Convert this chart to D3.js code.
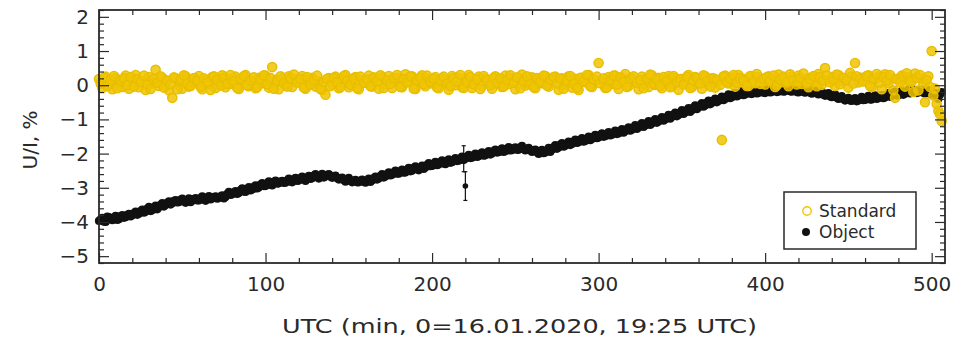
<!DOCTYPE html>
<html>
<head>
<meta charset="utf-8">
<script src="https://cdn.jsdelivr.net/npm/d3@7"></script>
<style>
  html, body { margin: 0; padding: 0; background: #fff; }
  svg { display: block; }
  text { font-family: "DejaVu Sans", sans-serif; fill: #2a2a2a; }
</style>
</head>
<body>
<svg id="chart" width="963" height="341"></svg>
<script>
// ---------------- DATA ----------------
// sample cadences: even minutes 0..506 and odd minutes 1..505
const sampleTimesEven = d3.range(0, 507, 2);
const sampleTimesOdd = d3.range(1, 506, 2);

// Standard star polarisation U/I, % (yellow) - even minutes
const standardEven = [
  0.18,-0.08,0.25,0.02,-0.12,0.21,0.10,-0.05,0.28,-0.10,
  0.15,0.30,-0.06,0.12,-0.14,0.24,0.05,0.45,-0.02,0.22,
  0.10,-0.15,-0.37,0.20,0.00,-0.10,0.26,-0.04,0.18,0.08,
  0.27,-0.12,0.14,0.02,0.24,-0.08,0.11,0.29,-0.06,0.19,
  0.04,0.25,-0.11,0.16,0.30,-0.03,0.13,-0.09,0.22,0.06,
  0.28,-0.07,0.53,0.15,-0.12,0.20,0.01,0.26,-0.05,0.17,
  0.09,0.27,-0.10,0.14,0.22,-0.04,0.11,-0.14,-0.28,0.21,
  0.03,0.25,-0.09,0.18,0.30,-0.06,0.12,0.24,-0.12,0.16,
  0.07,0.28,-0.04,0.19,-0.10,0.23,0.02,0.27,-0.08,0.14,
  0.21,-0.06,0.32,0.10,0.26,-0.11,0.15,0.29,-0.03,0.18,
  0.05,0.24,-0.09,0.20,0.12,-0.13,0.27,0.00,0.22,-0.06,
  0.16,0.30,-0.08,0.13,0.25,-0.02,0.19,0.08,-0.10,0.26,
  0.11,-0.05,0.28,0.04,0.21,-0.12,0.17,0.31,-0.01,0.14,
  0.23,-0.09,0.18,0.06,0.27,-0.04,0.12,0.25,-0.13,0.20,
  0.02,0.26,-0.07,0.19,-0.14,0.22,0.09,0.30,-0.05,0.15,
  0.65,0.12,-0.08,0.24,0.04,0.28,-0.11,0.17,0.33,-0.02,
  0.20,0.08,-0.12,0.25,0.13,-0.05,0.29,0.01,0.22,-0.09,
  0.16,0.27,-0.03,0.21,-0.13,0.18,0.07,0.30,-0.06,0.24,
  0.10,-0.10,0.26,0.03,0.20,-0.07,0.14,-1.60,0.28,0.05,
  0.22,-0.04,0.30,0.11,0.18,-0.02,0.27,0.06,0.24,0.13,
  0.02,0.26,0.15,-0.05,0.31,0.09,0.20,-0.03,0.25,0.12,
  0.28,0.04,0.19,-0.06,0.23,0.10,0.33,0.01,0.50,0.16,
  0.24,-0.02,0.30,0.12,0.20,-0.07,0.26,0.65,0.08,0.22,
  0.14,0.29,-0.05,0.18,0.25,-0.12,0.32,0.06,0.21,-0.37,
  0.17,0.28,-0.04,0.23,0.10,0.34,-0.15,0.19,-0.50,0.26,
  1.00,-0.10,-0.75,-1.05
];
// Standard - odd minutes
const standardOdd = [
  0.05,0.22,-0.03,0.16,0.27,-0.09,0.13,0.20,0.00,0.24,
  -0.04,0.18,0.09,0.28,0.02,-0.11,0.19,0.07,0.26,-0.07,
  0.14,0.03,0.23,-0.12,0.17,0.29,0.06,-0.02,0.21,0.12,
  -0.05,0.20,0.08,-0.14,0.26,0.15,-0.01,0.22,0.04,0.30,
  0.11,-0.08,0.19,0.27,0.00,0.14,0.23,-0.06,0.17,0.29,
  0.03,0.21,-0.10,0.12,0.26,0.06,-0.04,0.20,0.31,0.08,
  0.18,-0.07,0.24,0.02,0.15,0.28,-0.11,0.10,0.19,-0.02,
  0.22,0.09,-0.06,0.27,0.13,0.01,0.20,-0.09,0.25,0.07,
  0.16,-0.03,0.23,0.11,0.29,-0.08,0.14,0.04,0.21,0.30,
  -0.05,0.18,0.08,0.26,-0.10,0.15,0.22,0.03,0.28,0.10,
  0.19,-0.07,0.13,0.25,0.05,-0.02,0.21,0.11,0.30,-0.08,
  0.09,0.24,0.02,0.18,-0.11,0.27,0.14,0.00,0.22,0.06,
  0.20,-0.04,0.15,0.29,0.07,0.23,-0.09,0.12,0.26,0.03,
  -0.06,0.21,0.10,0.28,-0.01,0.16,0.24,0.05,0.19,-0.10,
  0.13,0.27,0.04,-0.08,0.22,0.11,0.30,-0.03,0.17,0.25,
  0.06,0.20,-0.07,0.14,0.28,0.02,0.23,0.10,-0.05,0.19,
  0.26,0.08,0.15,-0.09,0.21,0.31,0.04,0.17,-0.02,0.24,
  0.11,-0.06,0.27,0.09,0.18,0.02,0.25,-0.08,0.14,0.22,
  0.05,0.29,0.12,-0.04,0.20,0.16,0.01,0.26,0.09,0.18,
  0.30,0.07,0.21,0.14,-0.02,0.27,0.10,0.33,0.04,0.19,
  0.23,0.12,0.28,0.00,0.17,0.25,0.08,0.32,0.15,0.02,
  0.21,0.34,0.06,0.18,0.27,-0.03,0.24,0.13,0.29,0.09,
  0.17,0.31,0.03,0.22,0.14,0.36,0.05,0.26,0.19,0.11,
  0.27,-0.02,0.20,0.33,0.08,0.24,0.13,0.30,-0.15,0.18,
  0.09,0.25,0.35,0.12,-0.20,0.22,0.30,0.05,0.15,-0.05,
  -0.30,-0.55,-0.85
];

// Object polarisation U/I, % (black) - even minutes
const objectEven = [
  -3.97,-3.88,-4.00,-3.86,-3.95,-3.82,-3.92,-3.80,-3.86,-3.76,
  -3.80,-3.70,-3.76,-3.64,-3.70,-3.56,-3.66,-3.52,-3.57,-3.45,
  -3.50,-3.40,-3.45,-3.36,-3.42,-3.32,-3.44,-3.31,-3.38,-3.30,
  -3.37,-3.25,-3.38,-3.24,-3.31,-3.25,-3.30,-3.22,-3.27,-3.12,
  -3.19,-3.10,-3.15,-3.02,-3.12,-2.98,-3.05,-2.93,-2.99,-2.86,
  -2.95,-2.81,-2.93,-2.79,-2.87,-2.80,-2.85,-2.73,-2.84,-2.71,
  -2.79,-2.67,-2.80,-2.65,-2.72,-2.60,-2.73,-2.59,-2.67,-2.60,
  -2.71,-2.64,-2.76,-2.70,-2.82,-2.71,-2.84,-2.77,-2.84,-2.76,
  -2.85,-2.73,-2.79,-2.67,-2.73,-2.60,-2.67,-2.55,-2.62,-2.50,
  -2.59,-2.47,-2.55,-2.42,-2.50,-2.37,-2.49,-2.35,-2.41,-2.28,
  -2.36,-2.24,-2.32,-2.20,-2.31,-2.17,-2.25,-2.13,-2.21,-2.09,
  -2.15,-2.04,-2.12,-2.00,-2.08,-1.96,-2.05,-1.93,-2.00,-1.88,
  -1.96,-1.85,-1.93,-1.81,-1.90,-1.82,-1.89,-1.77,-1.91,-1.83,
  -1.95,-1.88,-2.01,-1.89,-1.97,-1.83,-1.89,-1.75,-1.82,-1.69,
  -1.77,-1.65,-1.72,-1.59,-1.67,-1.55,-1.63,-1.50,-1.57,-1.45,
  -1.53,-1.41,-1.49,-1.37,-1.45,-1.33,-1.41,-1.28,-1.35,-1.23,
  -1.30,-1.17,-1.24,-1.11,-1.18,-1.05,-1.12,-0.99,-1.06,-0.93,
  -1.00,-0.87,-0.93,-0.80,-0.87,-0.73,-0.80,-0.67,-0.73,-0.59,
  -0.65,-0.52,-0.59,-0.45,-0.52,-0.39,-0.46,-0.33,-0.40,-0.27,
  -0.35,-0.22,-0.30,-0.18,-0.27,-0.15,-0.26,-0.14,-0.23,-0.12,
  -0.23,-0.11,-0.20,-0.12,-0.19,-0.10,-0.18,-0.11,-0.19,-0.10,
  -0.21,-0.09,-0.22,-0.13,-0.25,-0.14,-0.27,-0.19,-0.31,-0.23,
  -0.35,-0.27,-0.40,-0.32,-0.45,-0.37,-0.46,-0.38,-0.45,-0.34,
  -0.43,-0.31,-0.42,-0.30,-0.38,-0.29,-0.36,-0.23,-0.31,-0.19,
  -0.30,-0.17,-0.25,-0.13,-0.22,-0.14,-0.21,-0.13,-0.25,-0.14,
  -0.27,-0.23,-0.40,-0.20
];
// Object - odd minutes
const objectOdd = [
  -3.92,-3.99,-3.84,-3.90,-3.87,-3.94,-3.83,-3.88,-3.79,-3.84,
  -3.74,-3.79,-3.68,-3.73,-3.61,-3.68,-3.58,-3.63,-3.50,-3.55,
  -3.44,-3.49,-3.38,-3.43,-3.35,-3.40,-3.36,-3.42,-3.33,-3.37,
  -3.30,-3.35,-3.29,-3.34,-3.27,-3.32,-3.25,-3.31,-3.18,-3.21,
  -3.13,-3.18,-3.07,-3.11,-3.03,-3.08,-2.97,-3.02,-2.91,-2.95,
  -2.87,-2.91,-2.84,-2.88,-2.82,-2.86,-2.78,-2.82,-2.76,-2.80,
  -2.72,-2.76,-2.70,-2.74,-2.64,-2.69,-2.65,-2.70,-2.62,-2.68,
  -2.66,-2.72,-2.72,-2.78,-2.75,-2.80,-2.79,-2.84,-2.79,-2.83,
  -2.78,-2.83,-2.72,-2.76,-2.65,-2.70,-2.60,-2.64,-2.55,-2.59,
  -2.52,-2.56,-2.47,-2.52,-2.42,-2.46,-2.41,-2.45,-2.33,-2.37,
  -2.29,-2.34,-2.25,-2.29,-2.23,-2.27,-2.18,-2.22,-2.14,-2.19,
  -2.09,-2.13,-2.05,-2.10,-2.01,-2.06,-1.98,-2.03,-1.93,-1.97,
  -1.90,-1.95,-1.86,-1.91,-1.85,-1.89,-1.82,-1.87,-1.86,-1.91,
  -1.90,-1.96,-1.94,-1.99,-1.92,-1.95,-1.81,-1.86,-1.74,-1.80,
  -1.70,-1.75,-1.65,-1.69,-1.60,-1.65,-1.56,-1.61,-1.50,-1.55,
  -1.46,-1.51,-1.42,-1.47,-1.38,-1.43,-1.34,-1.39,-1.28,-1.33,
  -1.23,-1.28,-1.17,-1.22,-1.11,-1.16,-1.05,-1.10,-0.99,-1.04,
  -0.93,-0.98,-0.86,-0.91,-0.79,-0.84,-0.73,-0.78,-0.65,-0.70,
  -0.58,-0.63,-0.51,-0.56,-0.45,-0.50,-0.39,-0.44,-0.33,-0.38,
  -0.28,-0.33,-0.24,-0.29,-0.20,-0.25,-0.19,-0.24,-0.17,-0.22,
  -0.16,-0.21,-0.15,-0.20,-0.14,-0.19,-0.14,-0.18,-0.15,-0.20,
  -0.15,-0.20,-0.17,-0.22,-0.19,-0.24,-0.22,-0.28,-0.27,-0.33,
  -0.31,-0.37,-0.36,-0.41,-0.40,-0.45,-0.41,-0.47,-0.39,-0.44,
  -0.37,-0.42,-0.35,-0.40,-0.33,-0.38,-0.29,-0.34,-0.25,-0.30,
  -0.23,-0.28,-0.19,-0.24,-0.18,-0.23,-0.17,-0.22,-0.19,-0.24,
  -0.25,-0.32,-0.28
];

// Object points with visible error bars
const errTimes  = [219, 220];
const errValues = [-2.15, -2.95];
const errSizes  = [0.38, 0.42];

const xTicks = [0, 100, 200, 300, 400, 500];
const yTicks = [-5, -4, -3, -2, -1, 0, 1, 2];
const xTitle = "UTC (min, 0=16.01.2020, 19:25 UTC)";
const yTitle = "U/I, %";
const legendLabels = ["Standard", "Object"];

// ---------------- LAYOUT ----------------
const svg = d3.select("#chart");
const L = 99, T = 10, R = 945, B = 263;
const x = d3.scaleLinear().domain([0, 508]).range([L, R]);
const y = d3.scaleLinear().domain([-5.2, 2.2]).range([B, T]);

const yellow = "#efc400";
const axisColor = "#2a2a2a";

// ---------------- DATA MARKS ----------------
const objData = sampleTimesEven.map((t, i) => ({ t, v: objectEven[i] }))
  .concat(sampleTimesOdd.map((t, i) => ({ t, v: objectOdd[i] })));
const stdData = sampleTimesEven.map((t, i) => ({ t, v: standardEven[i] }))
  .concat(sampleTimesOdd.map((t, i) => ({ t, v: standardOdd[i] })));

svg.append("g").selectAll("circle").data(objData).join("circle")
  .attr("cx", d => x(d.t)).attr("cy", d => y(d.v)).attr("r", 4.1)
  .attr("fill", "#111");

// error bars
const eb = svg.append("g").attr("stroke", "#111").attr("stroke-width", 1.2);
errTimes.forEach((t, i) => {
  const cx = x(t), y1 = y(errValues[i] + errSizes[i]), y2 = y(errValues[i] - errSizes[i]);
  eb.append("line").attr("x1", cx).attr("x2", cx).attr("y1", y1).attr("y2", y2);
  eb.append("line").attr("x1", cx - 2).attr("x2", cx + 2).attr("y1", y1).attr("y2", y1);
  eb.append("line").attr("x1", cx - 2).attr("x2", cx + 2).attr("y1", y2).attr("y2", y2);
});
svg.append("g").selectAll("circle").data(errTimes).join("circle")
  .attr("cx", (t) => x(t)).attr("cy", (t, i) => y(errValues[i])).attr("r", 2.8)
  .attr("fill", "#111");

svg.append("g").selectAll("circle").data(stdData).join("circle")
  .attr("cx", d => x(d.t)).attr("cy", d => y(d.v)).attr("r", 4.6)
  .attr("fill", yellow).attr("fill-opacity", 0.85)
  .attr("stroke", "#e8bd00").attr("stroke-width", 1.4);

// ---------------- AXES ----------------
function styleAxis(g) {
  g.select(".domain").remove();
  g.selectAll(".tick line").attr("stroke", axisColor).attr("stroke-width", 1.2);
  g.selectAll(".tick text").style("font-size", "20px").attr("fill", axisColor);
}
const yMinor = d3.range(-52, 23, 2).map(v => v / 10).filter(v => !yTicks.includes(v));
const xMinor = d3.range(0, 509, 20).filter(v => !xTicks.includes(v));

// left
svg.append("g").attr("transform", `translate(${L},0)`)
  .call(d3.axisLeft(y).tickValues(yTicks).tickSize(-10).tickPadding(10)
    .tickFormat(d => d < 0 ? "\u2212" + Math.abs(d) : d)).call(styleAxis);
svg.append("g").attr("transform", `translate(${L},0)`)
  .call(d3.axisLeft(y).tickValues(yMinor).tickSize(-5).tickFormat("")).call(styleAxis);
// right
svg.append("g").attr("transform", `translate(${R},0)`)
  .call(d3.axisRight(y).tickValues(yTicks).tickSize(-10).tickFormat("")).call(styleAxis);
svg.append("g").attr("transform", `translate(${R},0)`)
  .call(d3.axisRight(y).tickValues(yMinor).tickSize(-5).tickFormat("")).call(styleAxis);
// bottom
svg.append("g").attr("transform", `translate(0,${B})`)
  .call(d3.axisBottom(x).tickValues(xTicks).tickSize(-10).tickPadding(14)).call(styleAxis);
svg.append("g").attr("transform", `translate(0,${B})`)
  .call(d3.axisBottom(x).tickValues(xMinor).tickSize(-5).tickFormat("")).call(styleAxis);
// top
svg.append("g").attr("transform", `translate(0,${T})`)
  .call(d3.axisTop(x).tickValues(xTicks).tickSize(-10).tickFormat("")).call(styleAxis);
svg.append("g").attr("transform", `translate(0,${T})`)
  .call(d3.axisTop(x).tickValues(xMinor).tickSize(-5).tickFormat("")).call(styleAxis);

// frame
svg.append("rect").attr("x", L).attr("y", T).attr("width", R - L).attr("height", B - T)
  .attr("fill", "none").attr("stroke", axisColor).attr("stroke-width", 1.8);

// titles
svg.append("text").attr("x", (282 + 757) / 2).attr("y", 333)
  .attr("text-anchor", "middle").style("font-size", "20px")
  .attr("textLength", 475).attr("lengthAdjust", "spacingAndGlyphs").text(xTitle);
svg.append("text").attr("transform", "translate(37,140) rotate(-90)")
  .attr("text-anchor", "middle").style("font-size", "20px").text(yTitle);

// ---------------- LEGEND ----------------
const lg = svg.append("g");
lg.append("rect").attr("x", 784).attr("y", 192).attr("width", 132).attr("height", 57)
  .attr("fill", "#fff").attr("stroke", axisColor).attr("stroke-width", 1.5);
lg.append("circle").attr("cx", 807).attr("cy", 211).attr("r", 4.2)
  .attr("fill", "none").attr("stroke", yellow).attr("stroke-width", 1.4);
lg.append("circle").attr("cx", 806).attr("cy", 232).attr("r", 4)
  .attr("fill", "#111");
lg.selectAll("text").data(legendLabels).join("text")
  .attr("x", 819).attr("y", (d, i) => 217 + i * 21)
  .style("font-size", "17px").text(d => d);
</script>
</body>
</html>
